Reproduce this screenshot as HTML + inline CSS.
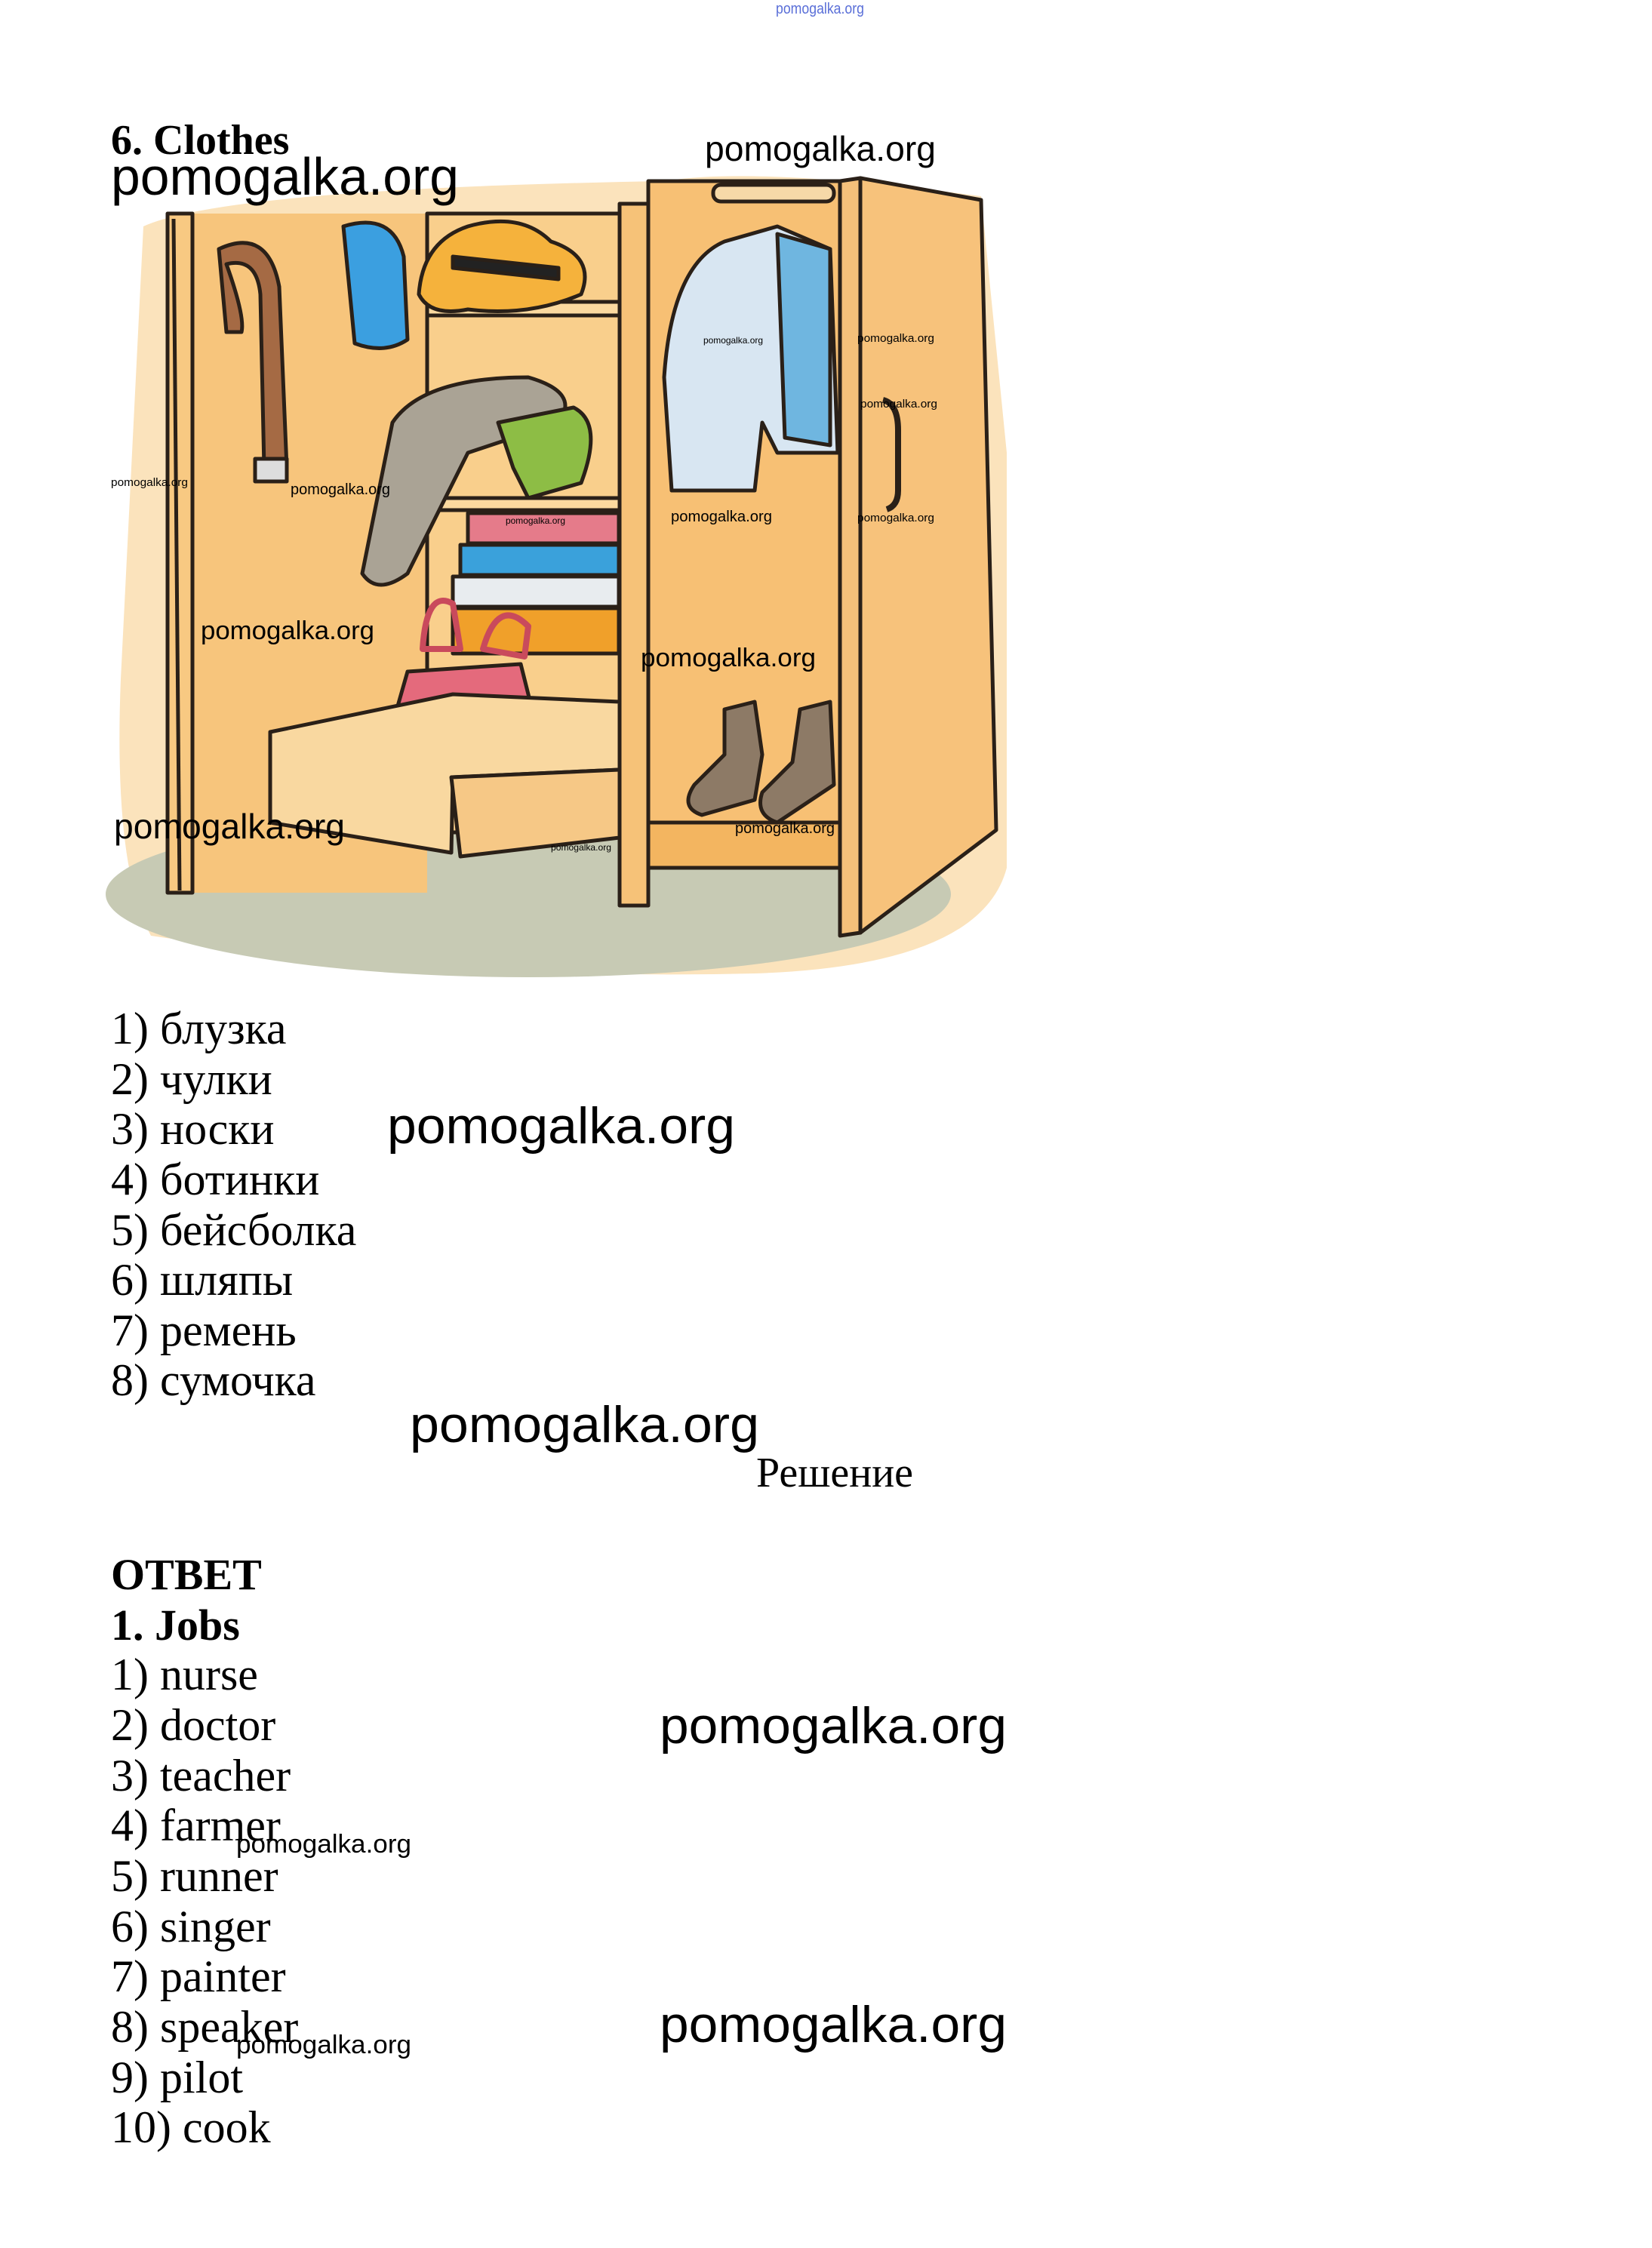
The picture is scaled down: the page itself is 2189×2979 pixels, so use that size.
<!DOCTYPE html>
<html><head><meta charset="utf-8"><style>
html,body{margin:0;padding:0;background:#fff;}
svg{display:block;}
.s{font-family:"Liberation Serif","Noto Serif CJK SC",serif;}
.w{font-family:"Liberation Sans","Noto Sans CJK SC",sans-serif;fill:#000;}
</style></head><body>
<svg width="2189" height="2979" viewBox="0 0 2189 2979" xmlns="http://www.w3.org/2000/svg">
<rect width="2189" height="2979" fill="#fff"/>
<g stroke="#2a2018" stroke-width="5" stroke-linejoin="round">
 <path d="M190 300 Q300 250 880 240 Q1000 220 1300 260 L1334 600 L1334 1150 Q1300 1280 1000 1290 Q600 1300 200 1240 Q150 1150 160 900 Z" fill="#fbe3bc" stroke="none"/>
 <ellipse cx="700" cy="1185" rx="560" ry="110" fill="#c7cab4" stroke="none"/>
 <rect x="255" y="283" width="311" height="900" fill="#f7c57c" stroke="none"/>
 <rect x="566" y="283" width="255" height="820" fill="#f9cf8c"/>
 <rect x="222" y="283" width="33" height="900" fill="#f8c982"/>
 <rect x="566" y="400" width="255" height="18" fill="#fbd99f"/>
 <rect x="566" y="660" width="255" height="16" fill="#fbd99f"/>
 <rect x="821" y="270" width="38" height="930" fill="#f6c278"/>
 <rect x="859" y="240" width="254" height="860" fill="#f7c074"/>
 <rect x="859" y="1090" width="254" height="60" fill="#f3b560"/>
 <path d="M1113 240 L1140 236 L1140 1236 L1113 1240 Z" fill="#f4c07a"/>
 <path d="M1140 236 L1300 265 L1320 1100 L1140 1236 Z" fill="#f7c27b"/>
 <path d="M1170 530 q20 5 20 40 l0 80 q0 20 -15 25" fill="none" stroke-width="8"/>
 <rect x="945" y="245" width="160" height="22" rx="10" fill="#f6d9a8"/>
 <path d="M960 320 L1030 300 L1100 330 L1110 600 L1030 600 L1010 560 L1000 650 L890 650 L880 500 Q890 350 960 320 Z" fill="#d8e6f2"/>
 <path d="M1030 310 L1100 330 L1100 590 L1040 580 Z" fill="#6fb6e0"/>
 <path d="M455 300 Q520 280 535 340 L540 450 Q510 470 470 455 Z" fill="#3b9fe0"/>
 <path d="M555 390 Q560 320 620 300 Q690 280 730 320 Q790 340 770 390 Q700 420 620 410 Q570 420 555 390 Z" fill="#f5b23c"/>
 <path d="M600 340 L740 355 L740 370 L600 355 Z" fill="#222"/>
 <path d="M290 330 Q355 300 370 380 L380 620 L350 620 L345 390 Q340 340 300 350 Q325 420 320 440 L300 440 Z" fill="#a56a44"/>
 <rect x="338" y="608" width="42" height="30" fill="#ddd"/>
 <path d="M520 560 Q560 500 700 500 Q770 520 740 560 L620 600 L540 760 Q500 790 480 760 Z" fill="#aaa395"/>
 <path d="M660 560 L760 540 Q800 560 770 640 L700 660 L680 620 Z" fill="#8dbd45"/>
 <rect x="620" y="680" width="200" height="40" fill="#e57b8a"/>
 <rect x="610" y="722" width="210" height="40" fill="#3aa1db"/>
 <rect x="600" y="764" width="220" height="40" fill="#e8ecef"/>
 <rect x="600" y="806" width="220" height="60" fill="#f0a02a"/>
 <path d="M560 860 Q565 780 600 800 L610 860 Z M640 860 Q660 790 700 830 L695 870 Z" fill="none" stroke="#c94a5c" stroke-width="8"/>
 <path d="M540 890 L690 880 L710 960 L520 960 Z" fill="#e46a7c"/>
 <path d="M358 970 L600 920 L821 930 L821 1020 L600 1030 L598 1130 L358 1090 Z" fill="#f9d8a0"/>
 <path d="M598 1030 L821 1020 L821 1110 L610 1135 Z" fill="#f6c886"/>
 <path d="M960 940 L1000 930 L1010 1000 L1000 1060 L930 1080 Q900 1070 920 1040 L960 1000 Z" fill="#8d7a66"/>
 <path d="M1060 940 L1100 930 L1105 1040 L1030 1090 Q1000 1080 1010 1050 L1050 1010 Z" fill="#8d7a66"/>
 <line x1="230" y1="290" x2="238" y2="1180" fill="none"/>
</g>
<text x="1028" y="18" font-size="20" fill="#5a6fd8" font-family="Liberation Sans,sans-serif" textLength="117" lengthAdjust="spacingAndGlyphs">pomogalka.org</text>
<g class="w">
<text x="934" y="213" font-size="46" textLength="306" lengthAdjust="spacingAndGlyphs">pomogalka.org</text>
<text x="147" y="258" font-size="70" textLength="461" lengthAdjust="spacingAndGlyphs">pomogalka.org</text>
<text x="932" y="455" font-size="12" textLength="79" lengthAdjust="spacingAndGlyphs">pomogalka.org</text>
<text x="1136" y="453" font-size="15" textLength="102" lengthAdjust="spacingAndGlyphs">pomogalka.org</text>
<text x="1140" y="540" font-size="15" textLength="102" lengthAdjust="spacingAndGlyphs">pomogalka.org</text>
<text x="147" y="644" font-size="15" textLength="102" lengthAdjust="spacingAndGlyphs">pomogalka.org</text>
<text x="385" y="655" font-size="20" textLength="132" lengthAdjust="spacingAndGlyphs">pomogalka.org</text>
<text x="670" y="694" font-size="12" textLength="79" lengthAdjust="spacingAndGlyphs">pomogalka.org</text>
<text x="889" y="691" font-size="20" textLength="134" lengthAdjust="spacingAndGlyphs">pomogalka.org</text>
<text x="1136" y="691" font-size="15" textLength="102" lengthAdjust="spacingAndGlyphs">pomogalka.org</text>
<text x="266" y="847" font-size="34" textLength="230" lengthAdjust="spacingAndGlyphs">pomogalka.org</text>
<text x="849" y="883" font-size="34" textLength="232" lengthAdjust="spacingAndGlyphs">pomogalka.org</text>
<text x="151" y="1111" font-size="46" textLength="306" lengthAdjust="spacingAndGlyphs">pomogalka.org</text>
<text x="974" y="1104" font-size="20" textLength="132" lengthAdjust="spacingAndGlyphs">pomogalka.org</text>
<text x="730" y="1127" font-size="12" textLength="80" lengthAdjust="spacingAndGlyphs">pomogalka.org</text>
<text x="513" y="1515" font-size="68" textLength="461" lengthAdjust="spacingAndGlyphs">pomogalka.org</text>
<text x="543" y="1911" font-size="68" textLength="463" lengthAdjust="spacingAndGlyphs">pomogalka.org</text>
<text x="874" y="2310" font-size="68" textLength="460" lengthAdjust="spacingAndGlyphs">pomogalka.org</text>
<text x="313" y="2455" font-size="34" textLength="232" lengthAdjust="spacingAndGlyphs">pomogalka.org</text>
<text x="874" y="2706" font-size="68" textLength="460" lengthAdjust="spacingAndGlyphs">pomogalka.org</text>
<text x="313" y="2721" font-size="34" textLength="232" lengthAdjust="spacingAndGlyphs">pomogalka.org</text>
</g>
<g class="s" fill="#000" font-size="60">
<text x="147" y="204" font-weight="bold" font-size="56">6. Clothes</text>
<text x="147" y="1383">1) блузка</text>
<text x="147" y="1450">2) чулки</text>
<text x="147" y="1516">3) носки</text>
<text x="147" y="1583">4) ботинки</text>
<text x="147" y="1650">5) бейсболка</text>
<text x="147" y="1716">6) шляпы</text>
<text x="147" y="1783">7) ремень</text>
<text x="147" y="1849">8) сумочка</text>
<text x="1002" y="1970" font-size="56">Решение</text>
<text x="147" y="2106" font-weight="bold" font-size="58">ОТВЕТ</text>
<text x="147" y="2173" font-weight="bold" font-size="58">1. Jobs</text>
<text x="147" y="2239">1) nurse</text>
<text x="147" y="2306">2) doctor</text>
<text x="147" y="2373">3) teacher</text>
<text x="147" y="2439">4) farmer</text>
<text x="147" y="2506">5) runner</text>
<text x="147" y="2573">6) singer</text>
<text x="147" y="2639">7) painter</text>
<text x="147" y="2706">8) speaker</text>
<text x="147" y="2773">9) pilot</text>
<text x="147" y="2839">10) cook</text>
</g>
</svg>
</body></html>
